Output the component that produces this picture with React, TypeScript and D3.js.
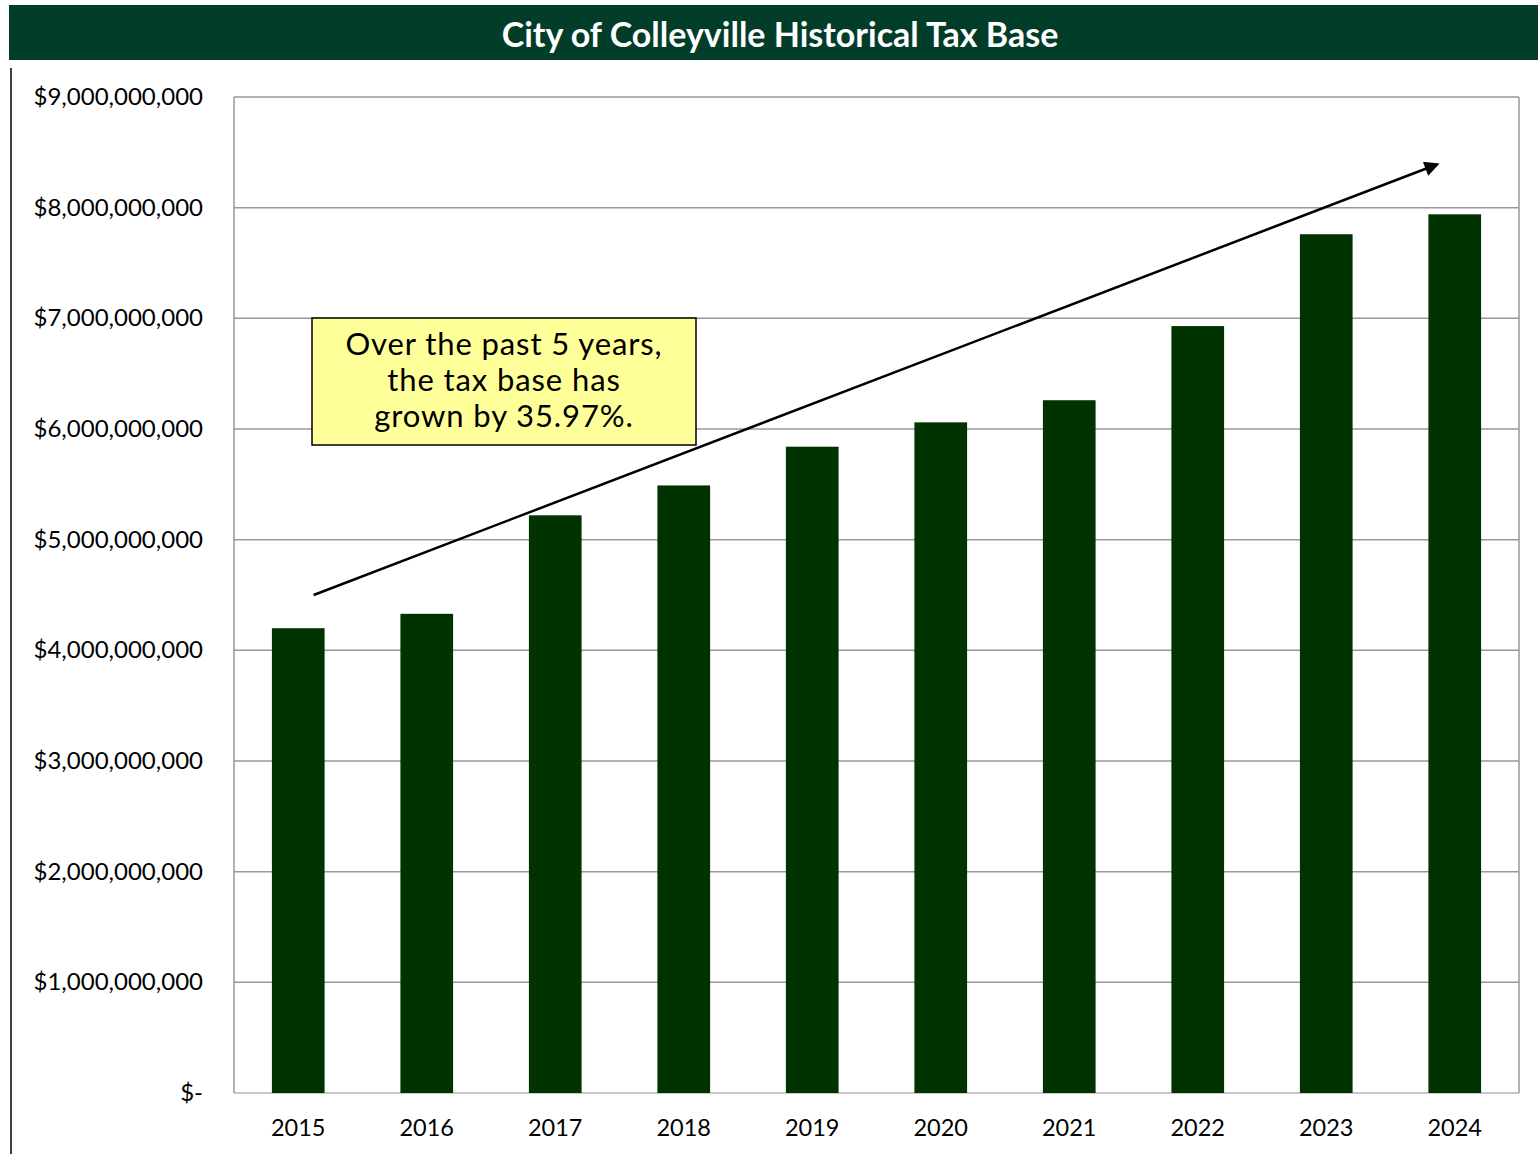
import React from "react";
import * as d3 from "d3";

const years = ["2015", "2016", "2017", "2018", "2019", "2020", "2021", "2022", "2023", "2024"];
const taxBase = [4.2e9, 4.33e9, 5.22e9, 5.49e9, 5.84e9, 6.06e9, 6.26e9, 6.93e9, 7.76e9, 7.94e9];
const yTicks = [0, 1e9, 2e9, 3e9, 4e9, 5e9, 6e9, 7e9, 8e9, 9e9];
const title = "City of Colleyville Historical Tax Base";
const noteLines = ["Over the past 5 years,", "the tax base has", "grown by 35.97%."];
// arrow in data units: [category index, value]
const arrowStart: [number, number] = [0.12, 4.5e9];
const arrowEnd: [number, number] = [8.86, 8.39e9];

const W = 1538;
const H = 1154;
const FONT = "Lato, 'Open Sans', sans-serif";

export default function App() {
  const left = 234, right = 1519, top = 97, bottom = 1093;
  const x = d3.scaleBand<string>().domain(years).range([left, right]).paddingInner(0.59).paddingOuter(0.295);
  const y = d3.scaleLinear().domain([0, 9e9]).range([bottom, top]);
  const xi = d3.scaleLinear().domain([-0.5, years.length - 0.5]).range([left, right]);
  const fmt = (v: number) => (v === 0 ? "$-" : "$" + d3.format(",")(v));

  const ax1 = xi(arrowStart[0]), ay1 = y(arrowStart[1]);
  const ax2 = xi(arrowEnd[0]), ay2 = y(arrowEnd[1]);

  return (
    <svg width={W} height={H} style={{ position: "absolute", left: 0, top: 0, background: "#fff" }} fontFamily={FONT}>
      <defs>
        <marker id="ah" viewBox="0 0 10 10" refX="8" refY="5" markerWidth="7" markerHeight="6" orient="auto" markerUnits="strokeWidth">
          <path d="M0,0 L10,5 L0,10 z" fill="#000" />
        </marker>
      </defs>
      <rect x={9} y={5} width={W - 9} height={55} fill="#013d28" />
      <text x={780} y={47} textAnchor="middle" fill="#fff" fontSize={34} fontWeight="bold">{title}</text>
      <line x1={11} x2={11} y1={68} y2={H} stroke="#000" strokeWidth={1.5} />

      {yTicks.map((t) => (
        <g key={t}>
          <line x1={left} x2={right} y1={y(t)} y2={y(t)} stroke={t === 0 ? "#c8c8c8" : "#999"} strokeWidth={t === 0 ? 2 : 1.5} />
          <text x={203} y={y(t) + 8} textAnchor="end" fontSize={24} fill="#000">{fmt(t)}</text>
        </g>
      ))}
      <line x1={left} x2={left} y1={top} y2={bottom} stroke="#999" strokeWidth={1.5} />
      <line x1={right} x2={right} y1={top} y2={bottom} stroke="#999" strokeWidth={1.5} />

      {years.map((yr, i) => (
        <g key={yr}>
          <rect x={x(yr)} y={y(taxBase[i])} width={x.bandwidth()} height={bottom - y(taxBase[i])} fill="#003300" />
          <text x={(x(yr) as number) + x.bandwidth() / 2} y={1136} textAnchor="middle" fontSize={23.5} fill="#000">{yr}</text>
        </g>
      ))}

      <line x1={ax1} y1={ay1} x2={ax2} y2={ay2} stroke="#000" strokeWidth={2.5} markerEnd="url(#ah)" />

      <rect x={312} y={318} width={384} height={127} fill="#ffff99" stroke="#000" strokeWidth={1.5} />
      {noteLines.map((l, i) => (
        <text key={i} x={504} y={355 + i * 36} textAnchor="middle" fontSize={31} letterSpacing={0.9} fill="#000">{l}</text>
      ))}
    </svg>
  );
}
